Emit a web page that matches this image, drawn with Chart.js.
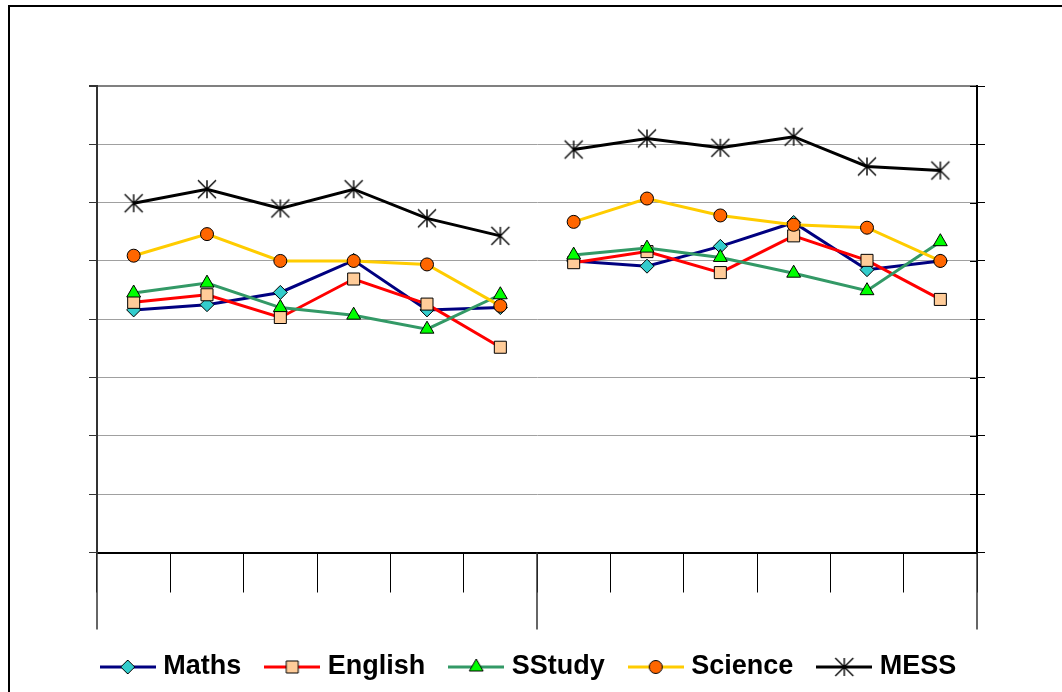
<!DOCTYPE html>
<html>
<head>
<meta charset="utf-8">
<script src="https://cdn.jsdelivr.net/npm/chart.js@4.4.1/dist/chart.umd.min.js"></script>
<style>
  html, body { margin: 0; padding: 0; background: #fff; overflow: hidden; }
  #wrap { position: relative; width: 1062px; height: 692px; }
  #frame { position: absolute; left: 8px; top: 5px; width: 1120px; height: 760px; border: 2px solid #000; box-sizing: border-box; }
  canvas { position: absolute; left: 0; top: 0; }
</style>
</head>
<body>
<div id="wrap">
  <div id="frame"></div>
  <canvas id="c" width="1062" height="692"></canvas>
</div>
<script>
// Twelve test points in two groups of six
const categories = ['1', '2', '3', '4', '5', '6', '7', '8', '9', '10', '11', '12'];
const groupEnds = [5];            // last index of each group except the final one
const yTicks = { min: 0, max: 80, step: 10 };

const seriesNames = ['Maths', 'English', 'SStudy', 'Science', 'MESS'];
const maths   = [41.6, 42.5, 44.6, 50.1, 41.6, 42.0, 50.0, 49.1, 52.5, 56.6, 48.5, 50.0];
const english = [42.9, 44.2, 40.3, 46.9, 42.6, 35.2, 49.7, 51.6, 48.0, 54.3, 50.1, 43.4];
const sstudy  = [44.5, 46.2, 42.0, 40.7, 38.3, 44.2, 51.0, 52.2, 50.6, 47.9, 44.9, 53.3];
const science = [50.9, 54.6, 50.0, 50.0, 49.4, 42.3, 56.7, 60.7, 57.8, 56.2, 55.7, 50.0];
const mess    = [59.9, 62.3, 59.0, 62.3, 57.3, 54.3, 69.1, 71.0, 69.4, 71.3, 66.2, 65.5];

const seriesValues = [maths, english, sstudy, science, mess];
const lineColors   = ['#000080', '#FF0000', '#339966', '#FFCC00', '#000000'];
const markerFills  = ['#33CCCC', '#FFCC99', '#00FF00', '#FF6600', '#000000'];
const markerShapes = ['rectRot', 'rect', 'triangle', 'circle', 'asterisk'];
const markerRadii  = [7, 8.5, 8, 6.5, 9];

// Shape painter shared by the asterisk marker and the legend icons
function paintMarker(g, shape, cx, cy, r, fill) {
  g.save();
  g.lineWidth = 1;
  g.strokeStyle = '#000';
  g.fillStyle = fill;
  g.beginPath();
  if (shape === 'rectRot') {
    g.moveTo(cx - r, cy); g.lineTo(cx, cy - r); g.lineTo(cx + r, cy); g.lineTo(cx, cy + r); g.closePath();
  } else if (shape === 'rect') {
    const s = r * Math.SQRT1_2;
    g.rect(cx - s, cy - s, 2 * s, 2 * s);
  } else if (shape === 'triangle') {
    const w = r * Math.sin(Math.PI / 3);
    g.moveTo(cx, cy - r); g.lineTo(cx + w, cy + r / 2); g.lineTo(cx - w, cy + r / 2); g.closePath();
  } else if (shape === 'circle') {
    g.arc(cx, cy, r, 0, Math.PI * 2);
  } else if (shape === 'asterisk') {
    g.lineWidth = 1.4;
    g.moveTo(cx - r, cy - r); g.lineTo(cx + r, cy + r);
    g.moveTo(cx + r, cy - r); g.lineTo(cx - r, cy + r);
    g.moveTo(cx, cy - r); g.lineTo(cx, cy + r);
    g.stroke();
    g.restore();
    return;
  }
  g.fill();
  g.stroke();
  g.restore();
}

// Asterisk point style (cross plus vertical bar)
function asteriskImage(r) {
  const size = Math.ceil(2 * r + 4);
  const cv = document.createElement('canvas');
  cv.width = size; cv.height = size;
  paintMarker(cv.getContext('2d'), 'asterisk', size / 2, size / 2, r, '#000');
  return cv;
}

// Legend icon: short line with the marker in its middle
function legendIcon(i) {
  const cv = document.createElement('canvas');
  cv.width = 56; cv.height = 24;
  const g = cv.getContext('2d');
  g.strokeStyle = lineColors[i];
  g.lineWidth = 3;
  g.beginPath(); g.moveTo(0, 12); g.lineTo(56, 12); g.stroke();
  paintMarker(g, markerShapes[i], 28, 12, markerRadii[i], markerFills[i]);
  return cv;
}

const legendIcons = seriesNames.map((_, i) => legendIcon(i));

const datasets = seriesNames.map((name, i) => ({
  label: name,
  data: seriesValues[i],
  borderColor: lineColors[i],
  backgroundColor: markerFills[i],
  borderWidth: 3,
  tension: 0,
  fill: false,
  pointStyle: markerShapes[i] === 'asterisk' ? asteriskImage(markerRadii[i]) : markerShapes[i],
  pointRadius: markerRadii[i],
  pointHoverRadius: markerRadii[i],
  pointBackgroundColor: markerFills[i],
  pointBorderColor: '#000',
  pointBorderWidth: 1,
  order: seriesNames.length - i,
  segment: {
    // no connecting line between the two groups
    borderColor: ctx => groupEnds.includes(ctx.p0DataIndex) ? 'rgba(0,0,0,0)' : undefined
  }
}));

// Longer separators at group edges and inner halves of the right-hand ticks
const axisExtras = {
  id: 'axisExtras',
  afterDraw(chart) {
    const { ctx, chartArea: a, scales } = chart;
    const x = scales.x, y2 = scales.y2;
    ctx.save();
    const edges = [a.left]
      .concat(groupEnds.map(i => (x.getPixelForValue(i) + x.getPixelForValue(i + 1)) / 2))
      .concat([a.right]);
    ctx.strokeStyle = '#333';
    ctx.lineWidth = 1.5;
    edges.forEach(px => {
      ctx.beginPath();
      ctx.moveTo(px, a.bottom);
      ctx.lineTo(px, a.bottom + 77);
      ctx.stroke();
    });
    ctx.strokeStyle = '#000';
    ctx.lineWidth = 1;
    y2.ticks.forEach(t => {
      const py = Math.round(y2.getPixelForValue(t.value)) + 0.5;
      ctx.beginPath();
      ctx.moveTo(a.right - 7, py);
      ctx.lineTo(a.right, py);
      ctx.stroke();
    });
    ctx.restore();
  }
};

new Chart(document.getElementById('c'), {
  type: 'line',
  data: { labels: categories, datasets },
  plugins: [axisExtras],
  options: {
    responsive: false,
    animation: false,
    devicePixelRatio: 1,
    layout: { padding: { left: 20, right: 20, top: 86, bottom: 1.5 } },
    scales: {
      x: {
        type: 'category',
        offset: true,
        grid: { offset: true, drawOnChartArea: false, drawTicks: true, tickLength: 40, color: '#000', lineWidth: 1 },
        border: { display: true, color: '#000', width: 2 },
        ticks: { display: false },
        afterFit: s => { s.height = 72; }
      },
      y: {
        position: 'left',
        min: yTicks.min, max: yTicks.max,
        ticks: { display: false, stepSize: yTicks.step },
        grid: {
          color: c => c.tick && c.tick.value === yTicks.max ? '#808080' : '#a0a0a0',
          lineWidth: c => c.tick && c.tick.value === yTicks.max ? 2 : 1,
          tickColor: '#333',
          tickLength: 8,
          drawTicks: true
        },
        border: { display: true, color: '#333', width: 2 },
        afterFit: s => { s.width = 77; }
      },
      y2: {
        position: 'right',
        min: yTicks.min, max: yTicks.max,
        ticks: { display: false, stepSize: yTicks.step },
        grid: { drawOnChartArea: false, tickLength: 8, tickColor: '#000', drawTicks: true },
        border: { display: true, color: '#000', width: 2 },
        afterFit: s => { s.width = 65; }
      }
    },
    plugins: {
      tooltip: { enabled: false },
      title: { display: false },
      legend: {
        position: 'bottom',
        labels: {
          usePointStyle: true,
          pointStyleWidth: 44,
          padding: 29,
          color: '#000',
          font: { family: "'Liberation Sans', Arial, sans-serif", size: 27, weight: 'bold' },
          generateLabels: chart => chart.data.datasets.map((ds, i) => ({
            text: ds.label,
            pointStyle: legendIcons[i],
            fillStyle: ds.pointBackgroundColor,
            strokeStyle: ds.borderColor,
            fontColor: '#000',
            lineWidth: 0,
            hidden: false,
            datasetIndex: i
          }))
        }
      }
    }
  }
});
</script>
</body>
</html>
